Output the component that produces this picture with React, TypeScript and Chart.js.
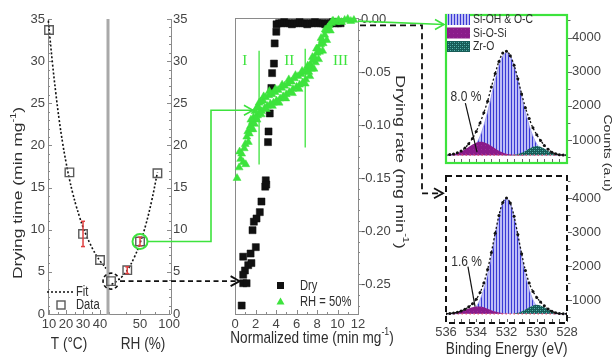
import { useEffect, useRef } from 'react';
import { Chart, registerables } from 'chart.js';
Chart.register(...registerables);

// ---------------- Panel a: drying time vs T and RH ----------------
const tempC = [10, 22, 30, 40];
const dryTimeT = [33.7, 16.8, 9.5, 6.4];
const dryTimeTErr = [0, 0, 1.5, 0];
const rhPct = [0, 28, 50, 80];
const dryTimeRH = [3.9, 5.2, 8.6, 16.7];
const dryTimeRHErr = [0, 0.4, 0.5, 0];
const fitTempC = [9.6, 12, 14, 16, 18, 20, 22, 24, 26, 28, 30, 32, 34, 36, 38, 40, 42, 43.5];
const fitTimeT = [34.8, 29.8, 26.2, 23.0, 20.3, 18.0, 16.0, 14.3, 12.8, 11.5, 10.3, 9.3, 8.4, 7.6, 6.9, 6.3, 5.8, 5.4];
const fitRH = [1, 10, 20, 30, 40, 50, 60, 70, 80];
const fitTimeRH = [3.5, 3.9, 4.5, 5.4, 6.7, 8.4, 10.6, 13.4, 16.8];
const timeTicks = [0, 5, 10, 15, 20, 25, 30, 35];
const tempTicks = [10, 20, 30, 40];
const rhTicks = [50, 100];

// ---------------- Panel b: drying rate vs normalized time ----------------
const dryNormTime = [0.65, 0.80, 0.97, 1.13, 0.80, 1.29, 1.60, 0.80, 1.52, 2.03, 1.71, 1.84, 2.10, 2.42, 2.58, 2.95, 3.00, 3.05, 3.22, 3.27, 3.39, 3.55, 3.62, 3.80, 3.87, 4.03,
  4.05, 4.30, 4.55, 4.80, 5.05, 5.30, 5.55, 5.80, 6.05, 6.30, 6.55, 6.80, 7.05, 7.30, 7.55, 7.80, 8.05, 8.30, 8.55, 8.80, 9.05, 9.30, 9.55, 9.80, 10.05, 10.30];
const dryRate = [-0.270, -0.249, -0.237, -0.249, -0.241, -0.232, -0.230, -0.224, -0.221, -0.215, -0.199, -0.191, -0.188, -0.182, -0.172, -0.158, -0.152, -0.156, -0.116, -0.106, -0.089, -0.065, -0.051, -0.042, -0.023, -0.012,
  -0.005, -0.004, -0.004, -0.003, -0.004, -0.004, -0.005, -0.004, -0.004, -0.003, -0.004, -0.004, -0.005, -0.004, -0.004, -0.003, -0.004, -0.004, -0.004, -0.005, -0.004, -0.004, -0.003, -0.004, -0.004, -0.004];
const wetNormTime = [0.20, 0.40, 0.45, 0.55, 0.65, 0.80, 0.90, 1.00, 1.05, 1.15, 1.25, 1.30, 1.40, 1.50, 1.60, 1.70, 1.80, 1.90,
  2.00, 2.10, 2.20, 2.30, 2.40, 2.50, 2.60, 2.75, 2.90, 3.00, 3.15, 3.30, 3.45, 3.60, 3.75, 3.90, 4.05, 4.20, 4.40, 4.55, 4.70, 4.85,
  5.00, 5.15, 5.30, 5.50, 5.65, 5.80, 6.00, 6.15, 6.30, 6.45, 6.60, 6.75, 6.90, 7.05, 7.20, 7.35, 7.45, 7.60, 7.75, 7.85, 8.00, 8.10,
  8.25, 8.35, 8.50, 8.60, 8.75, 8.90, 9.05, 9.20, 9.40, 9.60, 9.85, 10.10, 10.40, 10.70, 11.00, 11.30, 11.60,
  1.55, 1.75, 1.95, 2.15, 2.35, 2.55, 2.80, 3.05, 3.35, 3.65, 3.95, 4.30, 4.60, 4.95, 5.25, 5.60, 5.90, 6.25, 6.55, 6.85,
  7.10, 7.30, 7.55, 7.70, 7.95, 8.15, 8.40, 8.55, 8.80, 8.95, 9.30, 9.50];
const wetRate = [-0.150, -0.140, -0.125, -0.132, -0.127, -0.135, -0.122, -0.118, -0.137, -0.111, -0.106, -0.116, -0.108, -0.101, -0.104, -0.097, -0.093, -0.099,
  -0.093, -0.084, -0.091, -0.083, -0.089, -0.078, -0.087, -0.077, -0.084, -0.074, -0.082, -0.072, -0.080, -0.071, -0.079, -0.069, -0.077, -0.067, -0.075, -0.065, -0.073, -0.063,
  -0.071, -0.061, -0.069, -0.059, -0.066, -0.056, -0.064, -0.054, -0.062, -0.052, -0.060, -0.050, -0.057, -0.048, -0.050, -0.043, -0.047, -0.039, -0.036, -0.041, -0.032, -0.028,
  -0.031, -0.024, -0.020, -0.023, -0.015, -0.011, -0.008, -0.006, -0.004, -0.002, -0.003, -0.001, -0.003, -0.001, 0.000, -0.002, -0.001,
  -0.095, -0.104, -0.087, -0.095, -0.079, -0.090, -0.073, -0.085, -0.068, -0.082, -0.066, -0.079, -0.062, -0.075, -0.057, -0.070, -0.053, -0.066, -0.049, -0.061,
  -0.044, -0.054, -0.036, -0.047, -0.028, -0.038, -0.018, -0.030, -0.010, -0.020, -0.011, -0.002];
const normTimeTicks = [0, 2, 4, 6, 8, 10, 12];
const rateTicks = [-0.25, -0.20, -0.15, -0.10, -0.05, 0.0];
const phaseBounds = [2.35, 6.85];
const phaseLineTop = [-0.030, -0.028];
const phaseLineBottom = [-0.137, -0.121];
const phaseNames = ['I', 'II', 'III'];
const phaseLabelX = [0.95, 5.3, 10.3];
const phaseLabelY = -0.040;
const greenTarget = [1.75, -0.086];
const blackTargetX = 0.45;

// ---------------- Panel c: XPS O1s ----------------
const bindingEnergy = [528, 528.25, 528.5, 528.75, 529, 529.25, 529.5, 529.75, 530, 530.25, 530.5, 530.75, 531, 531.25, 531.5, 531.75,
  532, 532.25, 532.5, 532.75, 533, 533.25, 533.5, 533.75, 534, 534.25, 534.5, 534.75, 535, 535.25, 535.5, 535.75, 536];
const topBackground = 560;
const topSiOH = [560, 561, 563, 569, 580, 605, 654, 742, 887, 1110, 1423, 1822, 2284, 2757, 3172, 3458, 3560, 3458, 3172, 2757, 2284, 1822, 1423, 1110, 887, 742, 654, 605, 580, 569, 563, 561, 560];
const topSiOSi = [560, 560, 560, 560, 560, 560, 560, 560, 560, 560, 560, 560, 561, 564, 569, 580, 601, 635, 687, 753, 826, 893, 938, 949, 924, 868, 797, 725, 664, 620, 591, 575, 566];
const topZrO = [561, 564, 572, 591, 627, 684, 751, 808, 830, 808, 751, 684, 627, 591, 572, 564, 561, 560, 560, 560, 560, 560, 560, 560, 560, 560, 560, 560, 560, 560, 560, 560, 560];
const topEnvelope = [561, 565, 575, 600, 647, 729, 845, 990, 1157, 1358, 1630, 1946, 2352, 2792, 3193, 3470, 3602, 3545, 3299, 2950, 2550, 2140, 1801, 1499, 1251, 1050, 891, 770, 684, 629, 594, 576, 566];
const botBackground = 600;
const botSiOH = [600, 600, 600, 602, 607, 618, 645, 702, 814, 1009, 1317, 1753, 2302, 2905, 3460, 3857, 4000, 3857, 3460, 2905, 2302, 1753, 1317, 1009, 814, 702, 645, 618, 607, 602, 600, 600, 600];
const botSiOSi = [600, 600, 600, 600, 600, 600, 600, 600, 600, 600, 600, 600, 600, 600, 601, 604, 609, 620, 639, 668, 707, 751, 791, 816, 818, 797, 760, 716, 675, 644, 623, 610, 604];
const botZrO = [601, 604, 612, 631, 667, 724, 791, 848, 870, 848, 791, 724, 667, 631, 612, 604, 601, 600, 600, 600, 600, 600, 600, 600, 600, 600, 600, 600, 600, 600, 600, 600, 600];
const botEnvelope = [601, 604, 612, 633, 674, 742, 836, 950, 1084, 1257, 1508, 1877, 2369, 2936, 3473, 3865, 4010, 3877, 3499, 2973, 2409, 1904, 1508, 1225, 1032, 899, 805, 734, 682, 646, 623, 610, 604];
const countTicks = [1000, 2000, 3000, 4000];
const energyTicks = [536, 534, 532, 530, 528];
const xpsLegend = ['Si-OH & O-C', 'Si-O-Si', 'Zr-O'];
const topPct = { text: '8.0 %', at: [534.68, 2260], from: [534.72, 2080], to: [533.95, 648] };
const botPct = { text: '1.6 %', at: [534.64, 2140], from: [534.55, 1990], to: [534.08, 815] };

// ---------------- style / layout ----------------
const SANS = "'Liberation Sans', Arial, Helvetica, sans-serif";
const NARROW = "'Liberation Sans Narrow', 'Arial Narrow', 'Liberation Sans', Arial, sans-serif";
const SERIF = "'Liberation Serif', 'Times New Roman', serif";
const GREEN = '#3de33d';
const AXIS = '#8a8a8a';
const TICK = '#444444';
const TITLE = '#2e2e2e';
const BOX = {
  t: { left: 0, top: 0, w: 118, h: 358 },
  rh: { left: 98, top: 0, w: 110, h: 358 },
  rate: { left: 225, top: 0, w: 190, h: 358 },
  top: { left: 436, top: 0, w: 170, h: 175 },
  bot: { left: 436, top: 170, w: 170, h: 188 },
};

const pts = (xs: number[], ys: number[]) => xs.map((x, i) => ({ x, y: ys[i] }));
const setTicks = (vals: number[]) => (s: any) => { s.ticks = vals.map((v) => ({ value: v })); };
const fixSize = (size: number) => (s: any) => {
  if (s.isHorizontal()) s.height = size; else s.width = size;
  s.paddingLeft = 0; s.paddingRight = 0; s.paddingTop = 0; s.paddingBottom = 0;
};
const tickFont = { family: NARROW, size: 13 };
const hidden = { display: false, drawTicks: false };
const noBorder = { display: false };

function drawRich(ctx: CanvasRenderingContext2D, parts: Array<[string, boolean]>, x: number, y: number, size: number,
  rot: number, color: string, sx = 0.8, align: 'center' | 'left' = 'center', family = SANS) {
  ctx.save();
  ctx.translate(x, y);
  ctx.scale(sx, 1);
  ctx.rotate((rot * Math.PI) / 180);
  const fontOf = (sup: boolean) => `${sup ? Math.round(size * 0.62) : size}px ${family}`;
  let w = 0;
  for (const [t, sup] of parts) { ctx.font = fontOf(sup); w += ctx.measureText(t).width; }
  let cx = align === 'center' ? -w / 2 : 0;
  ctx.fillStyle = color;
  ctx.textBaseline = 'middle';
  ctx.textAlign = 'left';
  for (const [t, sup] of parts) {
    ctx.font = fontOf(sup);
    ctx.fillText(t, cx, sup ? -size * 0.36 : 0);
    cx += ctx.measureText(t).width;
  }
  ctx.restore();
}

function line(ctx: CanvasRenderingContext2D, x1: number, y1: number, x2: number, y2: number) {
  ctx.beginPath(); ctx.moveTo(x1, y1); ctx.lineTo(x2, y2); ctx.stroke();
}
function vTicks(ctx: CanvasRenderingContext2D, scale: any, x: number, from: number, to: number, step: number, len: number) {
  ctx.beginPath();
  for (let v = from; v <= to + 1e-9; v += step) { const y = Math.round(scale.getPixelForValue(v)) + 0.5; ctx.moveTo(x, y); ctx.lineTo(x + len, y); }
  ctx.stroke();
}
function hTicks(ctx: CanvasRenderingContext2D, scale: any, y: number, from: number, to: number, step: number, len: number) {
  ctx.beginPath();
  for (let v = from; v <= to + 1e-9; v += step) { const x = Math.round(scale.getPixelForValue(v)) + 0.5; ctx.moveTo(x, y); ctx.lineTo(x, y + len); }
  ctx.stroke();
}
function chevron(ctx: CanvasRenderingContext2D, x: number, y: number, dx: number, dy: number) {
  const L = 9, W = 5;
  const px = -dy, py = dx;
  ctx.save(); ctx.setLineDash([]);
  ctx.beginPath();
  ctx.moveTo(x - dx * L + px * W, y - dy * L + py * W);
  ctx.lineTo(x, y);
  ctx.lineTo(x - dx * L - px * W, y - dy * L - py * W);
  ctx.stroke();
  ctx.restore();
}
function errorBars(chart: any, xs: number[], ys: number[], errs: number[]) {
  const { ctx, scales } = chart;
  ctx.save(); ctx.strokeStyle = '#e04040'; ctx.lineWidth = 1.5;
  xs.forEach((xv, i) => {
    if (!errs[i]) return;
    const x = scales.x.getPixelForValue(xv);
    const y1 = scales.y.getPixelForValue(ys[i] - errs[i]);
    const y2 = scales.y.getPixelForValue(ys[i] + errs[i]);
    line(ctx, x, y1, x, y2);
    line(ctx, x - 2, y1, x + 2, y1); line(ctx, x - 2, y2, x + 2, y2);
  });
  ctx.restore();
}

function makePattern(kind: string) {
  const c = document.createElement('canvas');
  const n = kind === 'stripes' ? 3 : 4;
  c.width = n; c.height = n;
  const g = c.getContext('2d')!;
  if (kind === 'stripes') {
    g.fillStyle = '#bdbdf6'; g.fillRect(0, 0, 3, 3);
    g.fillStyle = '#3a3ad4'; g.fillRect(0, 0, 1, 3);
  } else if (kind === 'purple') {
    g.fillStyle = '#8a1b8a'; g.fillRect(0, 0, 4, 4);
    g.fillStyle = '#9a2a9a'; g.fillRect(1, 1, 1, 1);
  } else {
    g.fillStyle = '#175b56'; g.fillRect(0, 0, 4, 4);
    g.fillStyle = '#5cb8b0'; g.fillRect(0, 0, 1, 1); g.fillRect(2, 2, 1, 1);
    g.fillStyle = '#2f8580'; g.fillRect(2, 0, 1, 1); g.fillRect(0, 2, 1, 1);
  }
  return g.createPattern(c, 'repeat')!;
}

const baseOptions = (padding: any) => ({
  responsive: false,
  maintainAspectRatio: false,
  animation: false as const,
  events: [] as any[],
  layout: { padding },
  plugins: { legend: { display: false }, tooltip: { enabled: false } },
});

export default function App() {
  const tRef = useRef<HTMLCanvasElement>(null);
  const rhRef = useRef<HTMLCanvasElement>(null);
  const rateRef = useRef<HTMLCanvasElement>(null);
  const topRef = useRef<HTMLCanvasElement>(null);
  const botRef = useRef<HTMLCanvasElement>(null);
  const ovRef = useRef<HTMLCanvasElement>(null);

  useEffect(() => {
    Chart.defaults.font.family = NARROW;
    Chart.defaults.color = TICK;
    const charts: Chart[] = [];
    const stripes = makePattern('stripes');
    const purple = makePattern('purple');
    const teal = makePattern('teal');

    // ---- T panel
    const cT = new Chart(tRef.current!, {
      type: 'scatter',
      data: {
        datasets: [
          { data: pts(tempC, dryTimeT), pointStyle: 'rect', pointRadius: 6, borderColor: '#5a5a5a', borderWidth: 1.4, backgroundColor: 'rgba(255,255,255,0)', clip: false as any, order: 0 },
          { data: pts(fitTempC, fitTimeT), showLine: true, borderColor: '#111', borderWidth: 1.6, borderDash: [2, 2], pointRadius: 0, tension: 0.4, clip: false as any, order: 1 },
        ],
      },
      options: {
        ...baseOptions({ top: 19, right: 10, left: 0, bottom: 0 }),
        scales: {
          x: { type: 'linear', position: 'bottom', min: 9.4, max: 44.7, afterBuildTicks: setTicks(tempTicks), afterFit: fixSize(44),
            grid: hidden, border: noBorder, ticks: { font: tickFont, color: TICK, padding: 3, maxRotation: 0, autoSkip: false, callback: (v: any) => String(v) } },
          y: { type: 'linear', position: 'left', min: 0, max: 35, afterBuildTicks: setTicks(timeTicks), afterFit: fixSize(48),
            grid: hidden, border: noBorder, ticks: { font: tickFont, color: TICK, padding: 3, callback: (v: any) => String(v) } },
        },
      } as any,
      plugins: [{
        id: 'decoT',
        beforeDatasetsDraw(chart: any) {
          const { ctx, chartArea: a, scales } = chart;
          ctx.save(); ctx.strokeStyle = AXIS; ctx.lineWidth = 1;
          line(ctx, a.left + 0.5, a.top, a.left + 0.5, a.bottom);
          line(ctx, a.left, a.bottom + 0.5, a.right, a.bottom + 0.5);
          vTicks(ctx, scales.y, a.left, 0, 35, 5, 4);
          vTicks(ctx, scales.y, a.left, 0, 35, 1, 2);
          hTicks(ctx, scales.x, a.bottom, 10, 40, 10, -4);
          hTicks(ctx, scales.x, a.bottom, 15, 45, 10, -2);
          ctx.restore();
        },
        afterDraw(chart: any) {
          const { ctx, chartArea: a } = chart;
          errorBars(chart, tempC, dryTimeT, dryTimeTErr);
          ctx.save();
          ctx.strokeStyle = '#111'; ctx.lineWidth = 1.6; ctx.setLineDash([2, 2]);
          line(ctx, a.left - 1, a.bottom - 22, a.left + 27, a.bottom - 22);
          ctx.setLineDash([]);
          ctx.strokeStyle = '#5a5a5a'; ctx.lineWidth = 1.4;
          ctx.strokeRect(a.left + 9, a.bottom - 13, 8, 8);
          ctx.restore();
          drawRich(ctx, [['Fit', false]], a.left + 28, a.bottom - 22, 14, 0, TITLE, 0.8, 'left');
          drawRich(ctx, [['Data', false]], a.left + 28, a.bottom - 9, 14, 0, TITLE, 0.8, 'left');
          drawRich(ctx, [['Drying time (min mg', false], ['-1', true], [')', false]], 18, 193, 17.5, -90, TITLE, 0.76);
          drawRich(ctx, [['T (°C)', false]], 69, 344, 17, 0, TITLE, 0.8);
        },
      }],
    });
    charts.push(cT);

    // ---- RH panel
    const cRH = new Chart(rhRef.current!, {
      type: 'scatter',
      data: {
        datasets: [
          { data: pts(rhPct, dryTimeRH), pointStyle: 'rect', pointRadius: 6, borderColor: '#5a5a5a', borderWidth: 1.4, backgroundColor: 'rgba(255,255,255,0)', clip: false as any, order: 0 },
          { data: pts(fitRH, fitTimeRH), showLine: true, borderColor: '#111', borderWidth: 1.6, borderDash: [2, 2], pointRadius: 0, tension: 0.4, clip: false as any, order: 1 },
        ],
      },
      options: {
        ...baseOptions({ top: 19, right: 0, left: 10, bottom: 0 }),
        scales: {
          x: { type: 'linear', position: 'bottom', min: -5.2, max: 103.4, afterBuildTicks: setTicks(rhTicks), afterFit: fixSize(44),
            grid: hidden, border: noBorder, ticks: { font: tickFont, color: TICK, padding: 3, maxRotation: 0, autoSkip: false, callback: (v: any) => String(v) } },
          y: { type: 'linear', position: 'right', min: 0, max: 35, afterBuildTicks: setTicks(timeTicks), afterFit: fixSize(37),
            grid: hidden, border: noBorder, ticks: { font: tickFont, color: TICK, padding: 2, callback: (v: any) => String(v) } },
        },
      } as any,
      plugins: [{
        id: 'decoRH',
        beforeDatasetsDraw(chart: any) {
          const { ctx, chartArea: a, scales } = chart;
          ctx.save();
          ctx.strokeStyle = AXIS; ctx.lineWidth = 1;
          line(ctx, a.left, a.bottom + 0.5, a.right, a.bottom + 0.5);
          line(ctx, a.right + 0.5, a.top, a.right + 0.5, a.bottom);
          vTicks(ctx, scales.y, a.right, 0, 35, 5, -4);
          vTicks(ctx, scales.y, a.right, 0, 35, 1, -2);
          hTicks(ctx, scales.x, a.bottom, 50, 100, 50, -4);
          hTicks(ctx, scales.x, a.bottom, 25, 75, 50, -2);
          ctx.strokeStyle = '#a9a9a9'; ctx.lineWidth = 3;
          line(ctx, a.left, a.top, a.left, a.bottom + 1);
          ctx.restore();
        },
        afterDraw(chart: any) {
          const { ctx, scales } = chart;
          errorBars(chart, rhPct, dryTimeRH, dryTimeRHErr);
          ctx.save();
          ctx.strokeStyle = GREEN; ctx.lineWidth = 2;
          ctx.beginPath();
          ctx.arc(scales.x.getPixelForValue(rhPct[2]), scales.y.getPixelForValue(dryTimeRH[2]), 7.5, 0, Math.PI * 2);
          ctx.stroke();
          ctx.strokeStyle = '#111'; ctx.lineWidth = 1.6; ctx.setLineDash([3.5, 2.5]);
          ctx.beginPath();
          ctx.arc(scales.x.getPixelForValue(rhPct[0]), scales.y.getPixelForValue(dryTimeRH[0]), 8, 0.2 * Math.PI, 1.95 * Math.PI);
          ctx.stroke();
          ctx.restore();
          drawRich(ctx, [['RH (%)', false]], 45, 344, 17, 0, TITLE, 0.8);
        },
      }],
    });
    charts.push(cRH);

    // ---- Drying-rate panel
    const cRate = new Chart(rateRef.current!, {
      type: 'scatter',
      data: {
        datasets: [
          { data: pts(wetNormTime, wetRate), pointStyle: 'triangle', pointRadius: 4.6, backgroundColor: GREEN, borderColor: GREEN, borderWidth: 0.5, clip: false as any, order: 0 },
          { data: pts(dryNormTime, dryRate), pointStyle: 'rect', pointRadius: 5, backgroundColor: '#111', borderColor: '#111', borderWidth: 0.5, clip: false as any, order: 1 },
        ],
      },
      options: {
        ...baseOptions({ top: 19, right: 0, left: 10, bottom: 0 }),
        scales: {
          x: { type: 'linear', position: 'bottom', min: 0, max: 12, afterBuildTicks: setTicks(normTimeTicks), afterFit: fixSize(44),
            grid: hidden, border: noBorder, ticks: { font: tickFont, color: TICK, padding: 3, maxRotation: 0, autoSkip: false, callback: (v: any) => String(v) } },
          y: { type: 'linear', position: 'right', min: -0.278, max: 0, afterBuildTicks: setTicks(rateTicks), afterFit: fixSize(57),
            grid: hidden, border: noBorder, ticks: { font: tickFont, color: TICK, padding: 3, callback: (v: any) => Number(v).toFixed(2) } },
        },
      } as any,
      plugins: [{
        id: 'decoRate',
        beforeDatasetsDraw(chart: any) {
          const { ctx, chartArea: a, scales } = chart;
          ctx.save();
          ctx.strokeStyle = AXIS; ctx.lineWidth = 1;
          ctx.strokeRect(Math.round(a.left) + 0.5, Math.round(a.top) - 0.5, Math.round(a.right - a.left), Math.round(a.bottom - a.top) + 1);
          vTicks(ctx, scales.y, a.right, -0.25, 0, 0.05, 4);
          vTicks(ctx, scales.y, a.right, -0.27, 0, 0.01, 2);
          hTicks(ctx, scales.x, a.bottom, 0, 12, 2, -4);
          hTicks(ctx, scales.x, a.bottom, 1, 11, 2, -2);
          ctx.strokeStyle = GREEN; ctx.lineWidth = 1.3;
          phaseBounds.forEach((b, i) => {
            const x = scales.x.getPixelForValue(b);
            line(ctx, x, scales.y.getPixelForValue(phaseLineTop[i]), x, scales.y.getPixelForValue(phaseLineBottom[i]));
          });
          ctx.restore();
          phaseNames.forEach((n, i) => {
            drawRich(ctx, [[n, false]], scales.x.getPixelForValue(phaseLabelX[i]), scales.y.getPixelForValue(phaseLabelY), 15, 0, GREEN, 1, 'center', SERIF);
          });
        },
        afterDraw(chart: any) {
          const { ctx, chartArea: a } = chart;
          ctx.save();
          ctx.fillStyle = '#111';
          ctx.fillRect(a.left + 42, a.bottom - 32, 7, 7);
          ctx.fillStyle = GREEN;
          ctx.beginPath();
          ctx.moveTo(a.left + 45.5, a.bottom - 16.5); ctx.lineTo(a.left + 49.5, a.bottom - 9.5); ctx.lineTo(a.left + 41.5, a.bottom - 9.5); ctx.closePath();
          ctx.fill();
          ctx.restore();
          drawRich(ctx, [['Dry', false]], a.left + 65, a.bottom - 28, 14, 0, TITLE, 0.8, 'left');
          drawRich(ctx, [['RH = 50%', false]], a.left + 65, a.bottom - 12, 14, 0, TITLE, 0.8, 'left');
          drawRich(ctx, [['Normalized time (min mg', false], ['-1', true], [')', false]], 87, 338, 17, 0, TITLE, 0.8);
          drawRich(ctx, [['Drying rate (mg min', false], ['-1', true], [')', false]], 175, 162, 18, 90, TITLE, 0.76);
        },
      }],
    });
    charts.push(cRate);

    // ---- XPS panels
    const xpsDatasets = (siOH: number[], siOSi: number[], zrO: number[], env: number[], bg: number) => [
      { data: pts(bindingEnergy, env), borderColor: '#111', borderWidth: 1.3, borderDash: [2, 2], pointRadius: 1.5, pointBackgroundColor: '#111', pointBorderWidth: 0, tension: 0.3, fill: false, order: 0 },
      { data: pts([528, 536], [bg, bg]), borderColor: '#e2506e', borderWidth: 1.2, borderDash: [1.5, 2.5], pointRadius: 0, fill: false, order: 1 },
      { data: pts(bindingEnergy, zrO), borderWidth: 0, borderColor: 'rgba(0,0,0,0)', backgroundColor: teal, fill: { value: bg }, pointRadius: 0, tension: 0.3, order: 2 },
      { data: pts(bindingEnergy, siOSi), borderWidth: 0, borderColor: 'rgba(0,0,0,0)', backgroundColor: purple, fill: { value: bg }, pointRadius: 0, tension: 0.3, order: 3 },
      { data: pts(bindingEnergy, siOH), borderWidth: 0.8, borderColor: '#9a9af0', backgroundColor: stripes, fill: { value: bg }, pointRadius: 0, tension: 0.3, order: 4 },
    ];
    const xpsScales = (showX: boolean, xh: number) => ({
      x: { type: 'linear', position: 'bottom', min: 528, max: 536, reverse: true, afterBuildTicks: setTicks(energyTicks), afterFit: fixSize(xh),
        grid: hidden, border: noBorder, ticks: { display: showX, font: tickFont, color: TICK, padding: 2, maxRotation: 0, autoSkip: false, callback: (v: any) => String(v) } },
      y: { type: 'linear', position: 'right', min: 330, max: 4660, afterBuildTicks: setTicks(countTicks), afterFit: fixSize(39),
        grid: hidden, border: noBorder, ticks: { font: tickFont, color: TICK, padding: 5, callback: (v: any) => String(v) } },
    });
    const xpsDeco = (isTop: boolean, pct: any) => ({
      id: isTop ? 'decoTop' : 'decoBot',
      afterDraw(chart: any) {
        const { ctx, chartArea: a, scales } = chart;
        ctx.save();
        ctx.strokeStyle = '#666'; ctx.lineWidth = 1;
        vTicks(ctx, scales.y, a.right + 1, 1000, 4500, 1000, 4);
        vTicks(ctx, scales.y, a.right + 1, 500, 4500, 500, 2.5);
        hTicks(ctx, scales.x, a.bottom - 1, 528, 536, 0.5, -3);
        if (isTop) {
          ctx.strokeStyle = GREEN; ctx.lineWidth = 2.2;
        } else {
          ctx.strokeStyle = '#111'; ctx.lineWidth = 2; ctx.setLineDash([6, 4]);
        }
        ctx.strokeRect(a.left, a.top, a.right - a.left, a.bottom - a.top);
        ctx.setLineDash([]);
        ctx.strokeStyle = '#111'; ctx.lineWidth = 1.2;
        line(ctx, scales.x.getPixelForValue(pct.from[0]), scales.y.getPixelForValue(pct.from[1]), scales.x.getPixelForValue(pct.to[0]), scales.y.getPixelForValue(pct.to[1]));
        ctx.restore();
        drawRich(ctx, [[pct.text, false]], scales.x.getPixelForValue(pct.at[0]), scales.y.getPixelForValue(pct.at[1]), 15, 0, TITLE, 0.8);
        if (isTop) {
          const fills = [stripes, purple, teal];
          const rows = [a.top + 4.5, a.top + 18, a.top + 31.5];
          xpsLegend.forEach((name, i) => {
            ctx.save();
            ctx.fillStyle = fills[i];
            ctx.fillRect(a.left + 1, rows[i] - 5.5, 23, 11);
            ctx.restore();
            drawRich(ctx, [[name, false]], a.left + 27, rows[i], 13, 0, TITLE, 0.8, 'left');
          });
        } else {
          drawRich(ctx, [['Binding Energy (eV)', false]], 70.7, 179, 17, 0, TITLE, 0.8);
        }
      },
    });
    const cTop = new Chart(topRef.current!, {
      type: 'line',
      data: { datasets: xpsDatasets(topSiOH, topSiOSi, topZrO, topEnvelope, topBackground) as any },
      options: { ...baseOptions({ top: 15, left: 10, right: 0, bottom: 0 }), scales: xpsScales(false, 12) } as any,
      plugins: [xpsDeco(true, topPct)],
    });
    charts.push(cTop);
    const cBot = new Chart(botRef.current!, {
      type: 'line',
      data: { datasets: xpsDatasets(botSiOH, botSiOSi, botZrO, botEnvelope, botBackground) as any },
      options: { ...baseOptions({ top: 6, left: 10, right: 0, bottom: 0 }), scales: xpsScales(true, 35) } as any,
      plugins: [xpsDeco(false, botPct)],
    });
    charts.push(cBot);

    // ---- overlay connectors
    const ov = ovRef.current!;
    const ctx = ov.getContext('2d')!;
    ctx.clearRect(0, 0, ov.width, ov.height);
    const P = (ch: any, box: any, x: number, y: number) => ({ x: box.left + ch.scales.x.getPixelForValue(x), y: box.top + ch.scales.y.getPixelForValue(y) });

    const g0 = P(cRH, BOX.rh, rhPct[2], dryTimeRH[2]);
    const g1 = P(cRate, BOX.rate, greenTarget[0], greenTarget[1]);
    const xv = BOX.rate.left + cRate.chartArea.left - 24;
    ctx.strokeStyle = GREEN; ctx.lineWidth = 1.6;
    ctx.beginPath();
    ctx.moveTo(g0.x + 7.5, g0.y); ctx.lineTo(xv, g0.y); ctx.lineTo(xv, g1.y); ctx.lineTo(g1.x, g1.y);
    ctx.stroke();
    chevron(ctx, g1.x, g1.y, 1, 0);

    const b0 = P(cRH, BOX.rh, rhPct[0], dryTimeRH[0]);
    const bx = BOX.rate.left + cRate.scales.x.getPixelForValue(blackTargetX);
    ctx.strokeStyle = '#111'; ctx.lineWidth = 1.8; ctx.setLineDash([5, 3.5]);
    line(ctx, b0.x + 9, b0.y, bx, b0.y);
    chevron(ctx, bx, b0.y, 1, 0);

    const s1 = P(cRate, BOX.rate, 12, -0.002);
    const e1 = { x: BOX.top.left + cTop.chartArea.left - 2, y: BOX.top.top + cTop.scales.y.getPixelForValue(4380) };
    ctx.setLineDash([]);
    ctx.strokeStyle = GREEN; ctx.lineWidth = 1.6;
    line(ctx, s1.x, s1.y, e1.x, e1.y);
    chevron(ctx, e1.x, e1.y, 1, 0);

    const s2 = P(cRate, BOX.rate, 12, -0.006);
    const xv2 = BOX.top.left + cTop.chartArea.left - 24;
    const yb = BOX.bot.top + cBot.scales.y.getPixelForValue(4150);
    const xe = BOX.bot.left + cBot.chartArea.left - 3;
    ctx.strokeStyle = '#111'; ctx.lineWidth = 1.8; ctx.setLineDash([6, 4]);
    ctx.beginPath();
    ctx.moveTo(s2.x + 2, s2.y); ctx.lineTo(xv2, s2.y); ctx.lineTo(xv2, yb); ctx.lineTo(xe, yb);
    ctx.stroke();
    ctx.setLineDash([]);
    chevron(ctx, xe, yb, 1, 0);

    drawRich(ctx, [['Counts (a.u)', false]], 607, 153, 14, 90, TITLE, 0.8);

    return () => {
      charts.forEach((c) => c.destroy());
      ctx.clearRect(0, 0, ov.width, ov.height);
    };
  }, []);

  const cv = (ref: any, b: any) => (
    <canvas ref={ref} width={b.w} height={b.h} style={{ position: 'absolute', left: b.left, top: b.top, width: b.w, height: b.h }} />
  );

  return (
    <div style={{ position: 'absolute', left: 0, top: 0, width: 616, height: 358, background: '#ffffff', overflow: 'hidden' }}>
      {cv(tRef, BOX.t)}
      {cv(rhRef, BOX.rh)}
      {cv(rateRef, BOX.rate)}
      {cv(topRef, BOX.top)}
      {cv(botRef, BOX.bot)}
      <canvas ref={ovRef} width={616} height={358} style={{ position: 'absolute', left: 0, top: 0, width: 616, height: 358, pointerEvents: 'none' }} />
    </div>
  );
}
